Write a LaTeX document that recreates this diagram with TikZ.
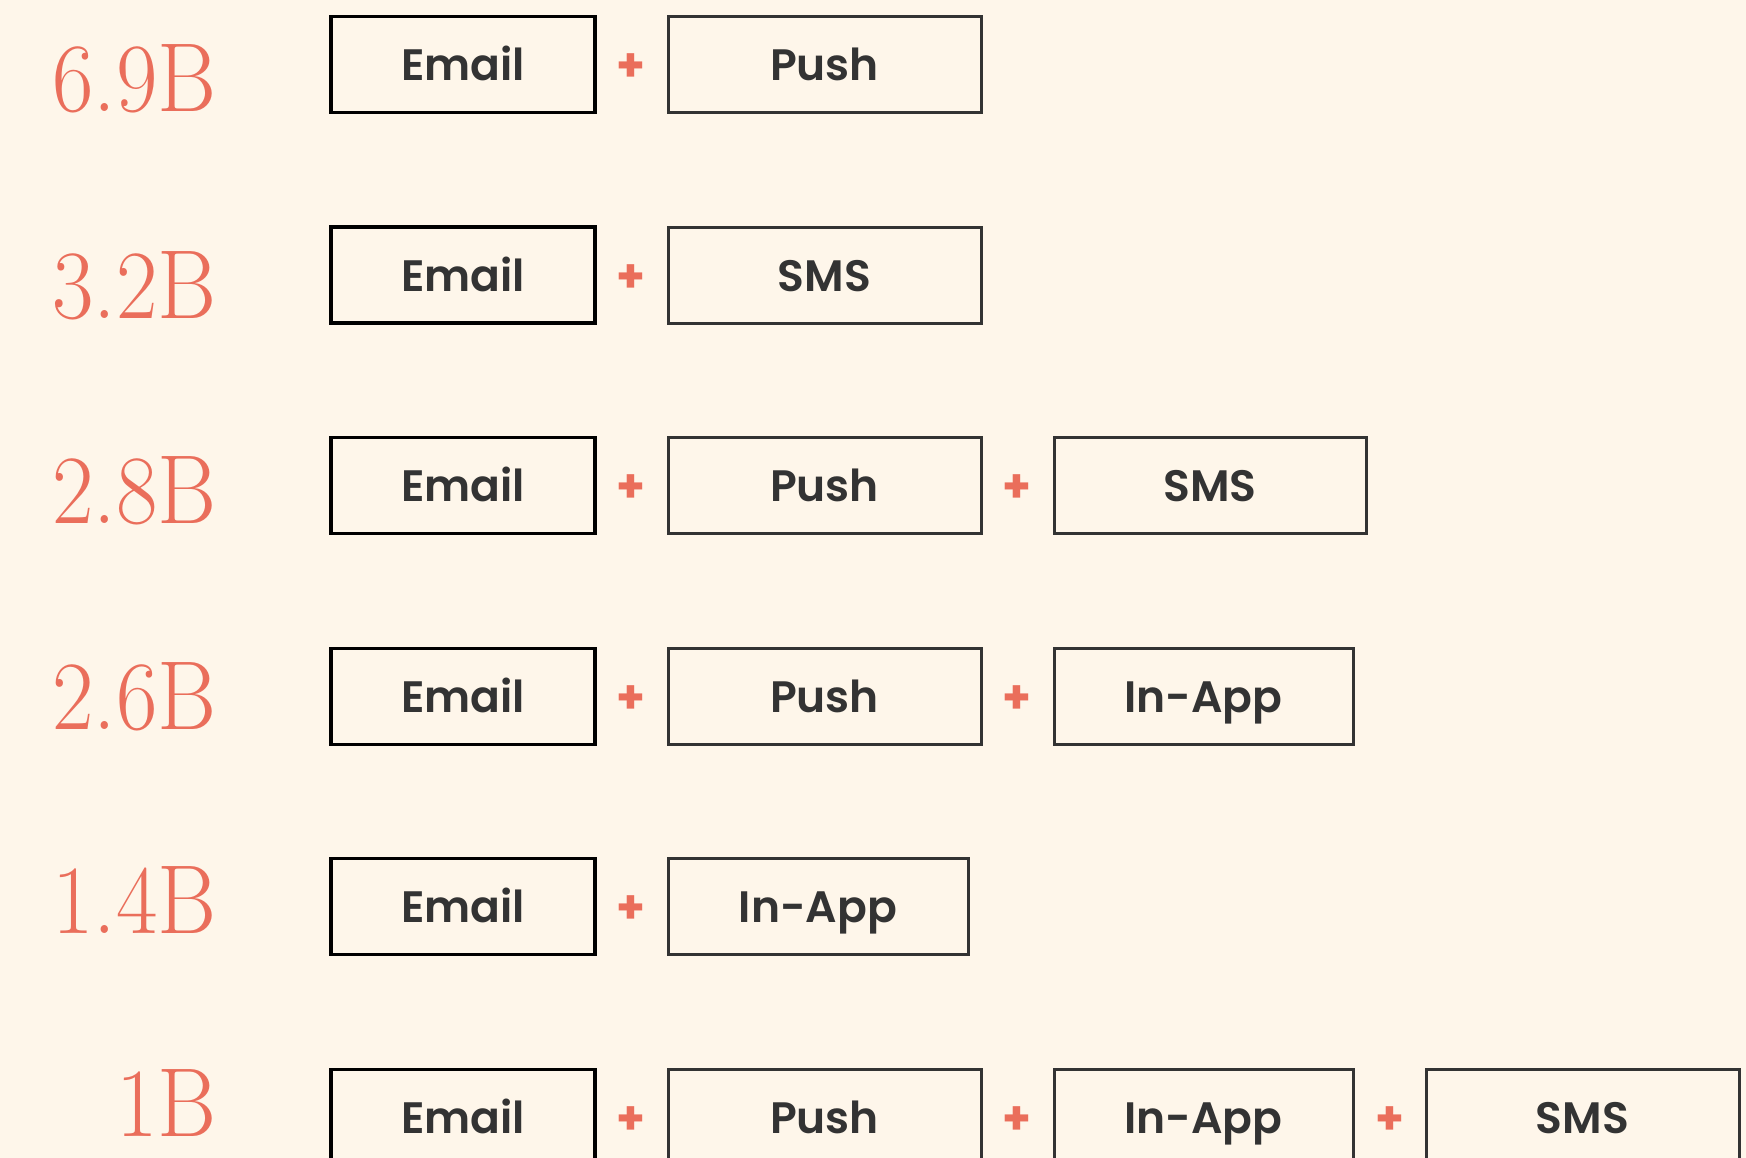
\documentclass[tikz,border=0pt]{standalone}
\usepackage{fontspec}
\newfontfamily\boxfont{Poppins}[UprightFont={* SemiBold}]
\newfontfamily\plusfont{Poppins}[UprightFont={* Bold}]
\definecolor{bg}{HTML}{FEF6EA}
\definecolor{salmon}{HTML}{EA6E5B}
\definecolor{ink}{HTML}{333333}
\begin{document}
\begin{tikzpicture}[x=1pt,y=-1pt,
  chan/.style={draw=ink, line width=3pt, minimum height=96pt, text=ink,
    font=\boxfont\fontsize{44}{44}\selectfont, text height=32pt, text depth=0pt, inner sep=0pt},
  firstchan/.style={chan, draw=black, line width=3.2pt},
  plus/.style={text=salmon, font=\plusfont\fontsize{46}{46}\selectfont, inner sep=0pt},
  num/.style={text=salmon, anchor=base east, inner sep=0pt, font=\fontsize{98}{98}\selectfont}]
\fill[bg] (0,0) rectangle (1746,1158);
\useasboundingbox (0,0) rectangle (1746,1158);
\newcommand\numlabel[3]{\node[num] (#1) at (217,#2) {\scalebox{0.92}[1]{#3}};}
% numbers
\numlabel{n1}{112}{6.9B}
\numlabel{n2}{319}{3.2B}
\numlabel{n3}{523}{2.8B}
\numlabel{n4}{729}{2.6B}
\numlabel{n5}{933}{1.4B}
\numlabel{n6}{1136}{1B}
% row 1
\node[firstchan, minimum width=264pt] (e1) at (463,64.6) {Email};
\node[plus] (p1a) at (631,67.6) {+};
\node[chan, minimum width=313pt] (c1b) at (824.5,64.6) {Push};
% row 2
\node[firstchan, minimum width=264pt] (e2) at (463,275.1) {Email};
\node[plus] (p2a) at (631,278.1) {+};
\node[chan, minimum width=313pt] (c2b) at (824.5,275.1) {SMS};
% row 3
\node[firstchan, minimum width=264pt] (e3) at (463,485.6) {Email};
\node[plus] (p3a) at (631,488.6) {+};
\node[chan, minimum width=313pt] (c3b) at (824.5,485.6) {Push};
\node[plus] (p3b) at (1017,488.6) {+};
\node[chan, minimum width=312pt] (c3c) at (1210,485.6) {SMS};
% row 4
\node[firstchan, minimum width=264pt] (e4) at (463,696.1) {Email};
\node[plus] (p4a) at (631,699.1) {+};
\node[chan, minimum width=313pt] (c4b) at (824.5,696.1) {Push};
\node[plus] (p4b) at (1017,699.1) {+};
\node[chan, minimum width=299pt] (c4c) at (1203.5,696.1) {In-App};
% row 5
\node[firstchan, minimum width=264pt] (e5) at (463,906.6) {Email};
\node[plus] (p5a) at (631,909.6) {+};
\node[chan, minimum width=300pt] (c5b) at (818,906.6) {In-App};
% row 6
\node[firstchan, minimum width=264pt] (e6) at (463,1117.1) {Email};
\node[plus] (p6a) at (631,1120.1) {+};
\node[chan, minimum width=313pt] (c6b) at (824.5,1117.1) {Push};
\node[plus] (p6b) at (1017,1120.1) {+};
\node[chan, minimum width=299pt] (c6c) at (1203.5,1117.1) {In-App};
\node[plus] (p6c) at (1390,1120.1) {+};
\node[chan, minimum width=313pt] (c6d) at (1582.5,1117.1) {SMS};
\end{tikzpicture}
\end{document}
